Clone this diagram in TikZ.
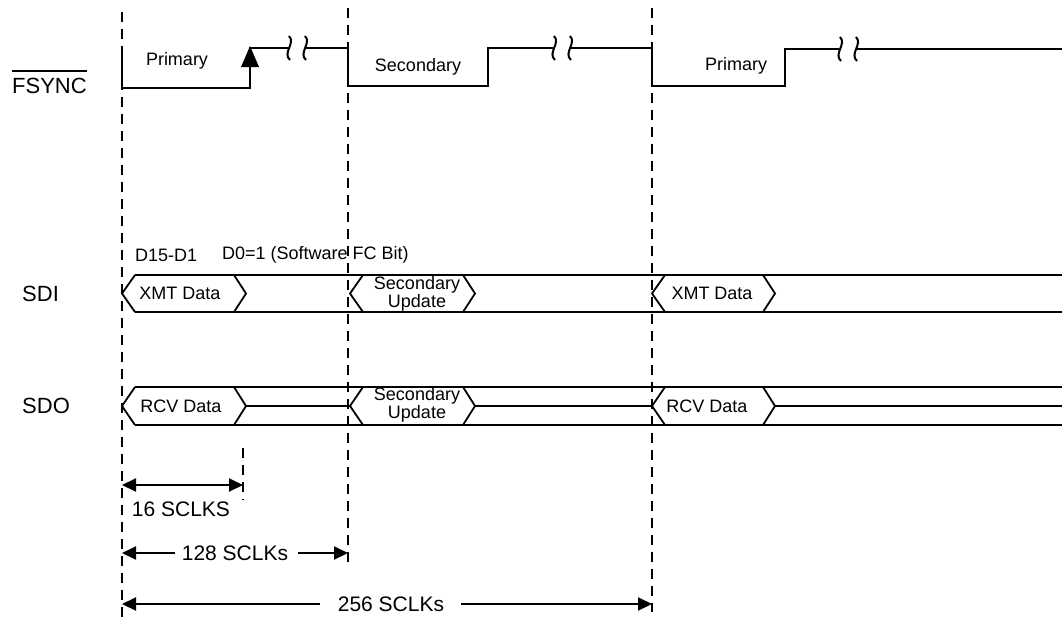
\documentclass[tikz,border=0pt]{standalone}
\usepackage{fontspec}
\setmainfont{Liberation Sans}
\usetikzlibrary{arrows.meta}
\tikzset{
  wave/.style={line width=2.6pt, line join=miter},
  busline/.style={line width=2.6pt},
  chev/.style={line width=1.8pt, line join=miter},
  midline/.style={line width=1.8pt},
  guide/.style={line width=2pt, dash pattern=on 10pt off 7pt},
  dimline/.style={line width=2pt, -{Triangle[length=14pt,width=13pt]}},
  lbl/.style={font=\fontsize{18}{16}\selectfont, inner sep=0pt, align=center},
  dimlbl/.style={font=\fontsize{21}{21}\selectfont, inner sep=0pt},
  sig/.style={font=\fontsize{22}{22}\selectfont, inner sep=0pt, anchor=west},
  brk/.pic={\draw[line width=2pt] (0,-12) .. controls (7,-5) and (-7,5) .. (1,12);}
}
\begin{document}
\begin{tikzpicture}[x=1pt,y=-1pt]
\useasboundingbox (0,0) rectangle (1062,619);
% named time marks
\coordinate (t0) at (122,0);
\coordinate (t16) at (243,0);
\coordinate (t128) at (348,0);
\coordinate (t256) at (652,0);
% guide lines
\draw[guide] (t0 |- 0,12) -- (t0 |- 0,619);
\draw[guide] (t128 |- 0,8) -- (t128 |- 0,565);
\draw[guide] (t256 |- 0,8) -- (t256 |- 0,612);
\draw[guide] (t16 |- 0,448) -- (t16 |- 0,500);

% FSYNC waveform
\draw[wave] (122,48) -- (122,88) -- (250,88) -- (250,48) -- (288,48);
\draw[wave] (305,48) -- (348,48) -- (348,86) -- (488,86) -- (488,48) -- (553,48);
\draw[wave] (570,48) -- (652,48) -- (652,86) -- (785,86) -- (785,49) -- (839,49);
\draw[wave] (856,49) -- (1062,49);
\pic at (289,48) {brk};
\pic at (305,48) {brk};
\pic at (554,48) {brk};
\pic at (570,48) {brk};
\pic at (840,49) {brk};
\pic at (856,49) {brk};
\fill (250,46) -- (241,67) -- (259,67) -- cycle;

\node[lbl] (p1) at (177,61) {Primary};
\node[lbl] (s1) at (418,67) {Secondary};
\node[lbl] (p2) at (736,66) {Primary};

\node[sig] (fs) at (12,86) {FSYNC};
\draw[line width=1.3pt] ([yshift=7pt]fs.north west) -- ([yshift=7pt]fs.north east);
\node[sig] (sdi) at (22,293.5) {SDI};
\node[sig] (sdo) at (22,406) {SDO};

% SDI bus
\node[lbl, anchor=west] (d15) at (135,255) {D15-D1};
\node[lbl, anchor=west] (d0) at (222,255) {D0=1 (Software FC Bit)};
\draw[busline] (135,275) -- (1062,275);
\draw[busline] (135,312) -- (1062,312);
\foreach \x in {122,350,652} {\draw[chev] (\x+13,275) -- (\x,293.5) -- (\x+13,312);}
\foreach \x in {246,475,775} {\draw[chev] (\x-12,275) -- (\x,293.5) -- (\x-12,312);}
\node[lbl] (x1) at (180,293.5) {XMT Data};
\node[lbl] (u1) at (417,293.5) {Secondary\\Update};
\node[lbl] (x2) at (712,293.5) {XMT Data};

% SDO bus
\draw[busline] (135,387) -- (1062,387);
\draw[busline] (135,425) -- (1062,425);
\foreach \x in {122,350,652} {\draw[chev] (\x+13,387) -- (\x,406) -- (\x+13,425);}
\foreach \x in {246,475,775} {\draw[chev] (\x-12,387) -- (\x,406) -- (\x-12,425);}
\draw[midline] (246,406) -- (350,406);
\draw[midline] (475,406) -- (652,406);
\draw[midline] (775,406) -- (1062,406);
\node[lbl] (r1) at (181,406) {RCV Data};
\node[lbl] (u2) at (417,405) {Secondary\\Update};
\node[lbl] (r2) at (707,406) {RCV Data};

% dimensions
\coordinate (a16l) at (122,485);
\coordinate (a16r) at (243,485);
\draw[line width=2pt, {Triangle[length=14pt,width=13pt]}-{Triangle[length=14pt,width=13pt]}] (a16l) -- (a16r);
\node[dimlbl] (l16) at (181,509) {16 SCLKS};

\node[dimlbl] (l128) at (235,553) {128 SCLKs};
\draw[dimline] ([xshift=-7pt]l128.west) -- (t0 |- l128);
\draw[dimline] ([xshift=10pt]l128.east) -- (t128 |- l128);

\node[dimlbl] (l256) at (391,604) {256 SCLKs};
\draw[dimline] ([xshift=-18pt]l256.west) -- (t0 |- l256);
\draw[dimline] ([xshift=17pt]l256.east) -- (t256 |- l256);
\end{tikzpicture}
\end{document}
